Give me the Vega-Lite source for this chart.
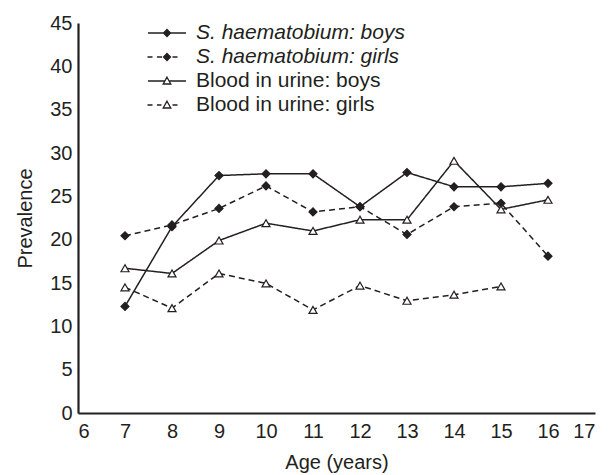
{
  "$schema": "https://vega.github.io/schema/vega-lite/v6.json",
  "autosize": "none",
  "width": 517,
  "height": 390,
  "padding": {"left": 78, "top": 23, "right": 14, "bottom": 62},
  "background": "white",
  "config": {
    "view": {"stroke": null},
    "font": "Liberation Sans",
    "axis": {
      "grid": false,
      "ticks": false,
      "tickSize": 0,
      "domainColor": "#231f20",
      "domainWidth": 2.2,
      "labelColor": "#231f20",
      "titleColor": "#231f20",
      "labelFont": "Liberation Sans",
      "titleFont": "Liberation Sans",
      "labelFontSize": 20,
      "titleFontSize": 20,
      "titleFontWeight": "normal"
    }
  },
  "data": {
    "values": [
      {"age": 7, "series": "S. haematobium: boys", "value": 12.3},
      {"age": 8, "series": "S. haematobium: boys", "value": 21.5},
      {"age": 9, "series": "S. haematobium: boys", "value": 27.4},
      {"age": 10, "series": "S. haematobium: boys", "value": 27.6},
      {"age": 11, "series": "S. haematobium: boys", "value": 27.6},
      {"age": 12, "series": "S. haematobium: boys", "value": 23.8},
      {"age": 13, "series": "S. haematobium: boys", "value": 27.75},
      {"age": 14, "series": "S. haematobium: boys", "value": 26.1},
      {"age": 15, "series": "S. haematobium: boys", "value": 26.1},
      {"age": 16, "series": "S. haematobium: boys", "value": 26.5},
      {"age": 7, "series": "S. haematobium: girls", "value": 20.45},
      {"age": 8, "series": "S. haematobium: girls", "value": 21.7},
      {"age": 9, "series": "S. haematobium: girls", "value": 23.6},
      {"age": 10, "series": "S. haematobium: girls", "value": 26.2},
      {"age": 11, "series": "S. haematobium: girls", "value": 23.2},
      {"age": 12, "series": "S. haematobium: girls", "value": 23.8},
      {"age": 13, "series": "S. haematobium: girls", "value": 20.6},
      {"age": 14, "series": "S. haematobium: girls", "value": 23.8},
      {"age": 15, "series": "S. haematobium: girls", "value": 24.2},
      {"age": 16, "series": "S. haematobium: girls", "value": 18.1},
      {"age": 7, "series": "Blood in urine: boys", "value": 16.7},
      {"age": 8, "series": "Blood in urine: boys", "value": 16.1},
      {"age": 9, "series": "Blood in urine: boys", "value": 19.9},
      {"age": 10, "series": "Blood in urine: boys", "value": 21.9},
      {"age": 11, "series": "Blood in urine: boys", "value": 21.0},
      {"age": 12, "series": "Blood in urine: boys", "value": 22.3},
      {"age": 13, "series": "Blood in urine: boys", "value": 22.3},
      {"age": 14, "series": "Blood in urine: boys", "value": 29.1},
      {"age": 15, "series": "Blood in urine: boys", "value": 23.5},
      {"age": 16, "series": "Blood in urine: boys", "value": 24.6},
      {"age": 7, "series": "Blood in urine: girls", "value": 14.5},
      {"age": 8, "series": "Blood in urine: girls", "value": 12.1},
      {"age": 9, "series": "Blood in urine: girls", "value": 16.1},
      {"age": 10, "series": "Blood in urine: girls", "value": 14.95},
      {"age": 11, "series": "Blood in urine: girls", "value": 11.9},
      {"age": 12, "series": "Blood in urine: girls", "value": 14.7},
      {"age": 13, "series": "Blood in urine: girls", "value": 12.95},
      {"age": 14, "series": "Blood in urine: girls", "value": 13.65},
      {"age": 15, "series": "Blood in urine: girls", "value": 14.6}
    ]
  },
  "encoding": {
    "x": {
      "field": "age", "type": "quantitative", "title": "Age (years)",
      "scale": {"domain": [6, 17], "nice": false, "zero": false},
      "axis": {"values": [6,7,8,9,10,11,12,13,14,15,16,17], "labelPadding": 8, "titlePadding": 11}
    },
    "y": {
      "field": "value", "type": "quantitative", "title": "Prevalence",
      "scale": {"domain": [0, 45], "nice": false},
      "axis": {"values": [0,5,10,15,20,25,30,35,40,45], "labelPadding": 6, "titlePadding": 14}
    }
  },
  "layer": [
    {
      "mark": {"type": "line", "color": "#231f20", "strokeWidth": 1.5},
      "encoding": {
        "detail": {"field": "series"},
        "strokeDash": {
          "field": "series", "type": "nominal", "legend": null,
          "scale": {
            "domain": ["Blood in urine: boys", "Blood in urine: girls", "S. haematobium: boys", "S. haematobium: girls"],
            "range": [[1, 0], [6, 4], [1, 0], [6, 4]]
          }
        }
      }
    },
    {
      "mark": {"type": "point", "stroke": "#231f20", "strokeWidth": 1.2, "opacity": 1, "size": 64},
      "encoding": {
        "shape": {
          "field": "series", "type": "nominal", "legend": null,
          "scale": {
            "domain": ["Blood in urine: girls", "Blood in urine: boys", "S. haematobium: girls", "S. haematobium: boys"],
            "range": ["triangle-up", "triangle-up", "diamond", "diamond"]
          }
        },
        "fill": {
          "field": "series", "type": "nominal",
          "scale": {
            "domain": ["S. haematobium: boys", "S. haematobium: girls", "Blood in urine: boys", "Blood in urine: girls"],
            "range": ["#231f20", "#231f20", "white", "white"]
          },
          "legend": {
            "title": null,
            "orient": "none",
            "legendX": 78,
            "legendY": -1,
            "padding": 0,
            "symbolSize": 400,
            "symbolStrokeWidth": 1.3,
            "symbolStrokeColor": "#231f20",
            "symbolOpacity": 1,
            "symbolType": {"expr": "datum.value === 'S. haematobium: boys' ? 'M-1.9,0H1.9M0,-0.35L0.35,0L0,0.35L-0.35,0Z' : datum.value === 'S. haematobium: girls' ? 'M-1.95,0H-1.45M-1.0,0H-0.5M0,-0.35L0.35,0L0,0.35L-0.35,0ZM0.55,0H1.05' : datum.value === 'Blood in urine: boys' ? 'M-1.9,0H-0.21M0.21,0H1.9M0,-0.38L0.38,0.3L-0.38,0.3Z' : 'M-1.95,0H-1.45M-1.0,0H-0.55M0,-0.38L0.38,0.3L-0.38,0.3ZM0.55,0H1.05'"},
            "labelOffset": 18,
            "labelFontSize": 21,
            "labelFont": "Liberation Sans",
            "labelFontStyle": {"expr": "indexof(datum.value, 'S.') === 0 ? 'italic' : 'normal'"},
            "labelColor": "#231f20",
            "labelLimit": 400,
            "rowPadding": 3
          }
        }
      }
    }
  ]
}
